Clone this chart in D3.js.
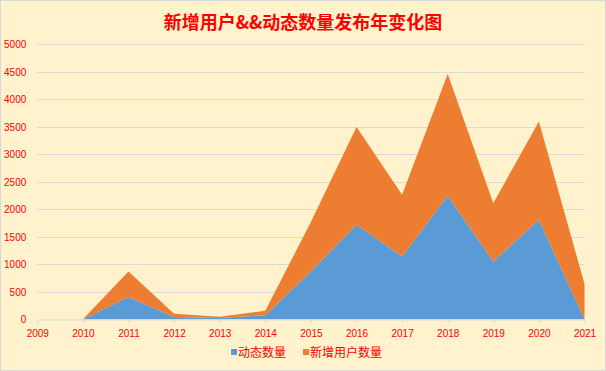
<!DOCTYPE html>
<html>
<head>
<meta charset="utf-8">
<script src="https://cdn.jsdelivr.net/npm/d3@7"></script>
<style>
  html, body { margin: 0; padding: 0; background: #fff; }
  svg { display: block; }
</style>
</head>
<body>
<svg id="chart"></svg>
<script>
// categories and series
const years = ["2009", "2010", "2011", "2012", "2013", "2014", "2015",
               "2016", "2017", "2018", "2019", "2020", "2021"];
const dongtai = [0, 0, 404, 40, 25, 75, 870, 1718, 1142, 2245, 1051, 1809, 0];
const xinzeng = [0, 0, 465, 60, 20, 80, 900, 1777, 1122, 2215, 1061, 1788, 640];
const yTicks = [0, 500, 1000, 1500, 2000, 2500, 3000, 3500, 4000, 4500, 5000];
const seriesNames = ["动态数量", "新增用户数量"];
const seriesColors = ["#5B9BD5", "#ED7D31"];
const title = "新增用户&&动态数量发布年变化图";

const WIDTH = 606;
const HEIGHT = 371;
const plot = { left: 37.3, right: 584.5, top: 44.3, bottom: 319.3 };

const svg = d3.select("#chart")
  .attr("width", WIDTH)
  .attr("height", HEIGHT);

// background + border
svg.append("rect")
  .attr("x", 0.5).attr("y", 0.5)
  .attr("width", WIDTH - 1).attr("height", HEIGHT - 1)
  .attr("fill", "#FFF2CC")
  .attr("stroke", "#D9D9D9");

svg.append("text")
  .attr("x", WIDTH / 2)
  .attr("y", 29)
  .attr("text-anchor", "middle")
  .style("font-family", '"Noto Sans CJK SC", sans-serif')
  .style("font-size", "18px")
  .style("font-weight", "bold")
  .attr("fill", "#FF0000")
  .text(title);

const x = d3.scalePoint().domain(years).range([plot.left, plot.right]);
const y = d3.scaleLinear().domain([0, 5000]).range([plot.bottom, plot.top]);

// gridlines
svg.append("g")
  .selectAll("line")
  .data(yTicks.slice(1))
  .join("line")
  .attr("x1", plot.left).attr("x2", plot.right)
  .attr("y1", (d) => Math.round(y(d)) + 0.5)
  .attr("y2", (d) => Math.round(y(d)) + 0.5)
  .attr("stroke", "#D9D9D9");

// stacked areas
const table = years.map((yr, i) => ({ year: yr, a: dongtai[i], b: xinzeng[i] }));
const stacked = d3.stack().keys(["a", "b"])(table);

const area = d3.area()
  .x((d) => x(d.data.year))
  .y0((d) => y(d[0]))
  .y1((d) => y(d[1]));

svg.append("g")
  .selectAll("path")
  .data(stacked)
  .join("path")
  .attr("d", area)
  .attr("fill", (d, i) => seriesColors[i]);

// y axis labels
const yAxis = svg.append("g")
  .attr("transform", `translate(${plot.left}, 0)`)
  .call(d3.axisLeft(y).tickValues(yTicks).tickFormat(d3.format("d"))
    .tickSize(0).tickPadding(11));
yAxis.select(".domain").remove();
yAxis.selectAll("text")
  .attr("fill", "#FF0000")
  .style("font-family", '"Liberation Sans", Arial, sans-serif')
  .style("font-size", "10px");

// x axis
const xAxis = svg.append("g")
  .attr("transform", `translate(0, ${Math.round(plot.bottom) + 0.5})`)
  .call(d3.axisBottom(x).tickSizeInner(4).tickSizeOuter(0).tickPadding(6));
xAxis.select(".domain").attr("stroke", "#D9D9D9");
xAxis.selectAll(".tick line").attr("stroke", "#D9D9D9");
xAxis.selectAll("text")
  .attr("fill", "#FF0000")
  .style("font-family", '"Liberation Sans", Arial, sans-serif')
  .style("font-size", "10px");

// legend
const legendX = [231, 303];
const legend = svg.append("g")
  .selectAll("g")
  .data(seriesNames)
  .join("g")
  .attr("transform", (d, i) => `translate(${legendX[i]}, 352)`);

legend.append("rect")
  .attr("x", 0).attr("y", -3)
  .attr("width", 6).attr("height", 6)
  .attr("fill", (d, i) => seriesColors[i]);

legend.append("text")
  .attr("x", 7)
  .attr("y", 4.5)
  .attr("fill", "#FF0000")
  .style("font-family", '"Noto Sans CJK SC", sans-serif')
  .style("font-size", "12px")
  .text((d) => d);
</script>
</body>
</html>
